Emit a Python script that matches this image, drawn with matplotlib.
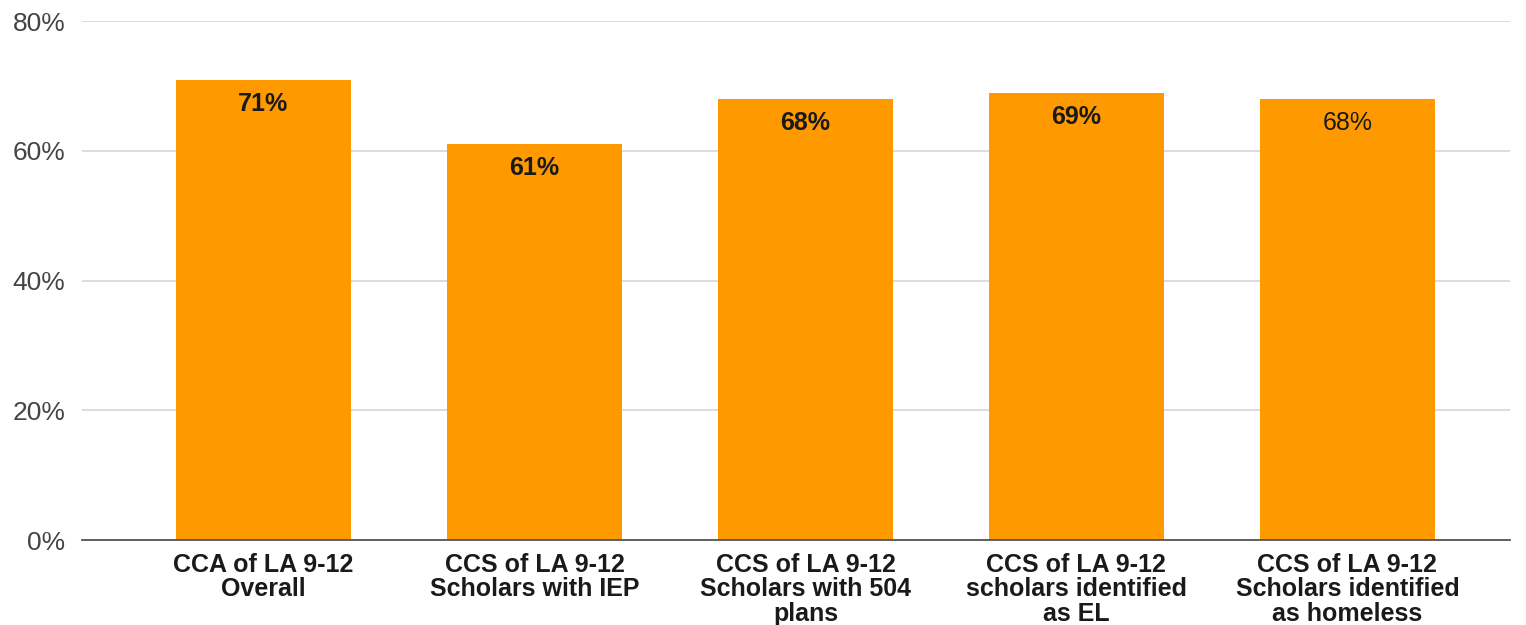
import matplotlib.pyplot as plt
from matplotlib.ticker import FuncFormatter

categories = [
    "CCA of LA 9-12\nOverall",
    "CCS of LA 9-12\nScholars with IEP",
    "CCS of LA 9-12\nScholars with 504\nplans",
    "CCS of LA 9-12\nscholars identified\nas EL",
    "CCS of LA 9-12\nScholars identified\nas homeless",
]
values = [71, 61, 68, 69, 68]
label_bold = [True, True, True, True, False]

plt.rcParams['font.family'] = ['Liberation Sans', 'DejaVu Sans']

fig = plt.figure(figsize=(15.26, 6.25), dpi=100)
ax = fig.add_axes([0.0537, 0.136, 0.9358, 0.83])

x = list(range(len(values)))
bars = ax.bar(x, values, width=0.646, color='#FF9900', zorder=3)

for b, v, bold in zip(bars, values, label_bold):
    ax.text(b.get_x() + b.get_width() / 2, v - 3.7, f"{v}%",
            ha='center', va='center', fontsize=18,
            fontweight='bold' if bold else 'normal', color='#1a1a1a', zorder=4)

ax.set_ylim(0, 80)
ax.set_xlim(-0.67, 4.6)
ax.set_yticks([0, 20, 40, 60, 80])
ax.yaxis.set_major_formatter(FuncFormatter(lambda v, p: f"{v:.0f}%"))
ax.grid(axis='y', color='#d9d9d9', linewidth=1.3, zorder=0)

ax.set_xticks(x)
ax.set_xticklabels(categories, fontsize=18, fontweight='bold', color='#1a1a1a',
                   linespacing=1.03)
ax.tick_params(axis='x', length=0, pad=9)
ax.tick_params(axis='y', length=0, pad=12, labelsize=19, labelcolor='#444444')

for s in ['top', 'right', 'left']:
    ax.spines[s].set_visible(False)
ax.spines['bottom'].set_color('#555555')
ax.spines['bottom'].set_linewidth(1.3)
ax.spines['bottom'].set_zorder(5)

fig.savefig('out.png', dpi=100, facecolor='white')
